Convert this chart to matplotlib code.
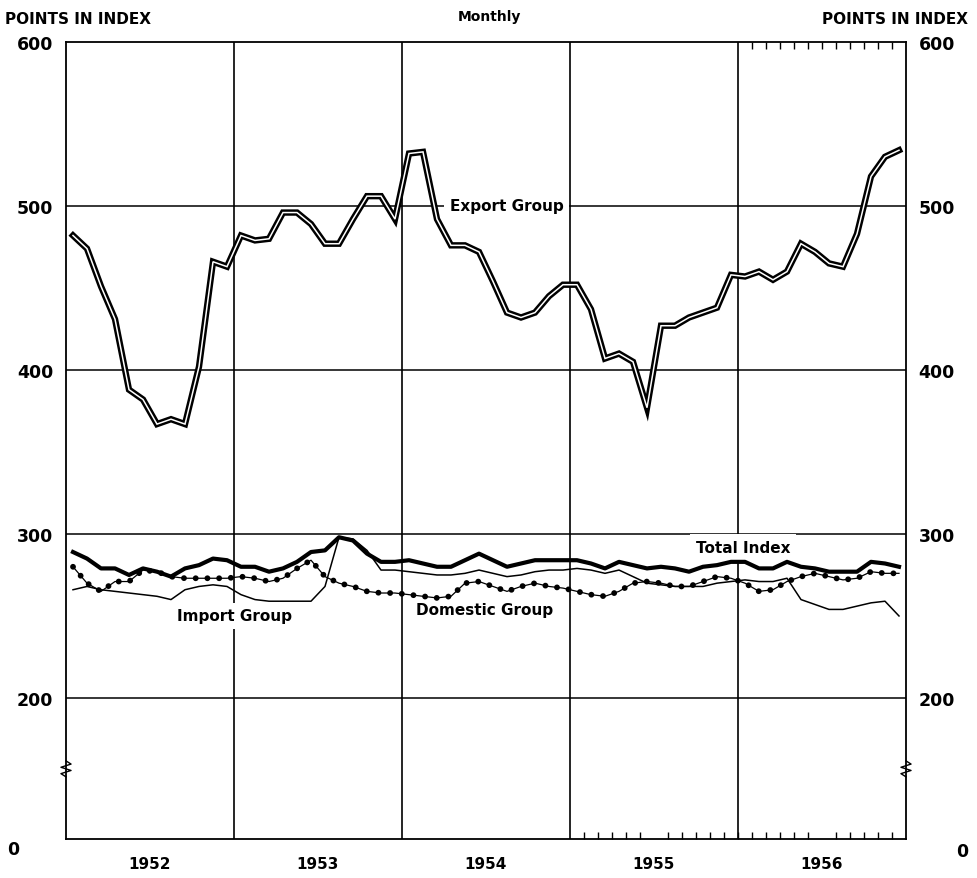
import numpy as np
from matplotlib import pyplot as plt

# monthly index values, Jan 1952 .. Dec 1956
years = ["1952", "1953", "1954", "1955", "1956"]
months = np.arange(60)

export = [482, 474, 451, 431, 388, 382, 367, 370, 367, 402, 466, 463,
          482, 479, 480, 496, 496, 489, 477, 477, 492, 506, 506, 492,
          532, 533, 492, 476, 476, 472, 454, 435, 432, 435, 445, 452,
          452, 437, 407, 410, 405, 377, 427, 427, 432, 435, 438, 458,
          457, 460, 455, 460, 477, 472, 465, 463, 483, 518, 530, 534]

total = [289, 285, 279, 279, 275, 279, 277, 274, 279, 281, 285, 284,
         280, 280, 277, 279, 283, 289, 290, 298, 296, 288, 283, 283,
         284, 282, 280, 280, 284, 288, 284, 280, 282, 284, 284, 284,
         284, 282, 279, 283, 281, 279, 280, 279, 277, 280, 281, 283,
         283, 279, 279, 283, 280, 279, 277, 277, 277, 283, 282, 280]

imports = [266, 268, 266, 265, 264, 263, 262, 260, 266, 268, 269, 268,
           263, 260, 259, 259, 259, 259, 268, 298, 297, 290, 278, 278,
           277, 276, 275, 275, 276, 278, 276, 274, 275, 277, 278, 278,
           279, 278, 276, 278, 274, 270, 269, 268, 268, 268, 270, 271,
           272, 271, 271, 273, 260, 257, 254, 254, 256, 258, 259, 250]

domestic = [280, 270, 265, 271, 271, 278, 277, 274, 273, 273, 273, 273,
            274, 273, 271, 273, 279, 284, 274, 270, 268, 265, 264, 264,
            263, 262, 261, 262, 270, 271, 268, 265, 268, 270, 268, 267,
            265, 263, 262, 265, 270, 271, 270, 268, 268, 271, 274, 273,
            270, 265, 266, 271, 274, 276, 274, 272, 273, 277, 276, 276]

yticks = [200, 300, 400, 500, 600]

plt.rcParams['font.family'] = 'DejaVu Sans'
plt.rcParams['font.weight'] = 'bold'

fig = plt.figure(figsize=(9.78, 8.79), dpi=100)
ax = fig.add_axes([66/978, 39/879, 840/978, 797/879])
ax.set_xlim(-0.5, 59.5)
ax.set_ylim(114, 600)   # bottom of the (broken) scale is labelled 0

# grid
for b in np.arange(11.5, 59, 12):
    ax.axvline(b, color="black", lw=1.2, zorder=1)
for v in yticks[:-1]:
    ax.axhline(v, color="black", lw=1.1, zorder=1)

# export group: double line
ax.plot(months, export, color="black", lw=4.6, solid_joinstyle="miter", zorder=3)
ax.plot(months, export, color="white", lw=1.1, solid_joinstyle="miter", zorder=3)
# total index: heavy line
ax.plot(months, total, color="black", lw=3.0, zorder=3)
# import group: thin line
ax.plot(months, imports, color="black", lw=1.1, zorder=3)
# domestic group: thin line with round dots
ax.plot(months, domestic, color="black", lw=0.9, zorder=3)
ax.plot(months, domestic, color="black", lw=4.2, linestyle=(0, (0.01, 2.0)),
        dash_capstyle="round", zorder=3)

for s in ax.spines.values():
    s.set_linewidth(1.3)

ax.set_yticks(yticks)
ax.tick_params(axis="y", length=0, pad=9, labelsize=12.5, labelright=True)
ax.set_xticks(np.arange(5.5, 60, 12))
ax.set_xticklabels(years)
ax.tick_params(axis="x", length=0, pad=12, labelsize=11)

# month ticks along bottom (1955-56) and top (1956)
ax.set_xticks(np.arange(36.5, 59.0), minor=True)
ax.tick_params(axis="x", which="minor", direction="in", length=5, width=1)
ax2 = ax.twiny()
ax2.set_xlim(ax.get_xlim())
ax2.set_xticks(np.arange(48.5, 59.0))
ax2.tick_params(axis="x", direction="in", length=5, width=1, labeltop=False)
for s in ax2.spines.values():
    s.set_visible(False)

# scale break marks
zz_x = np.array([0, -1, 1, -1, 1, 0]) * 0.006
zz_y = np.linspace(0.078, 0.098, 6)
ax.plot(zz_x, zz_y, color="black", lw=1, transform=ax.transAxes, clip_on=False)
ax.plot(1 + zz_x, zz_y, color="black", lw=1, transform=ax.transAxes, clip_on=False)

# series labels
lab = dict(fontsize=11, ha="center", va="center", zorder=2,
           bbox=dict(facecolor="white", edgecolor="none", pad=4))
ax.text(30.96, 500, "Export Group", **lab)
ax.text(47.86, 292, "Total Index", **lab)
ax.text(11.57, 250, "Import Group", **lab)
ax.text(29.43, 253.7, "Domestic Group", **lab)

# headers and zero labels
fig.text(5/978, 1 - 19/879, "POINTS IN INDEX", fontsize=11, ha="left", va="center")
fig.text(968/978, 1 - 19/879, "POINTS IN INDEX", fontsize=11, ha="right", va="center")
fig.text(489/978, 1 - 17/879, "Monthly", fontsize=10, ha="center", va="center")
fig.text(13/978, 1 - 850/879, "0", fontsize=12.5, ha="center", va="center")
fig.text(962/978, 1 - 852/879, "0", fontsize=12.5, ha="center", va="center")

fig.savefig("out.png", dpi=100)
